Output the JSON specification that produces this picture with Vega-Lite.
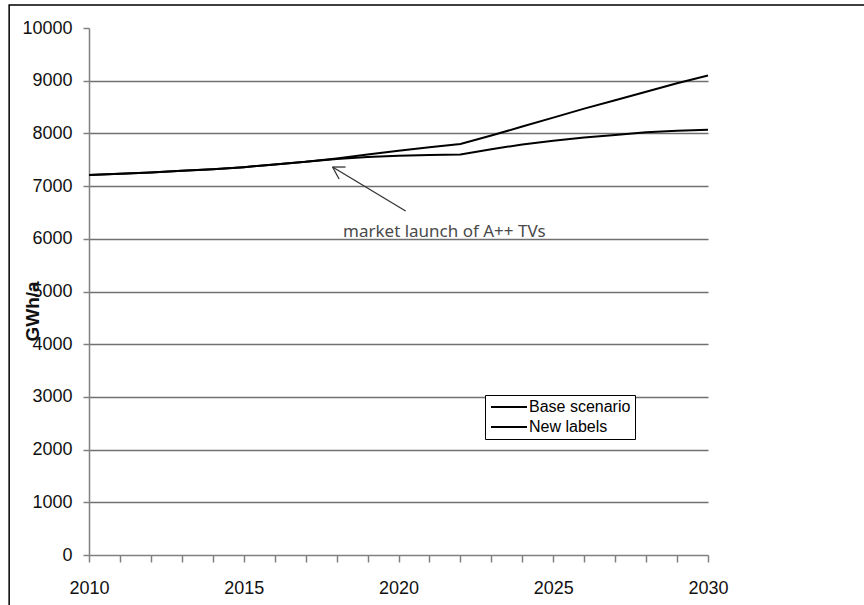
{
  "$schema": "https://vega.github.io/schema/vega-lite/v6.json",
  "width": 619,
  "height": 527,
  "autosize": {"type": "none"},
  "padding": {"left": 89, "top": 28, "right": 156, "bottom": 50},
  "background": "white",
  "config": {
    "view": {"stroke": null},
    "font": "Liberation Sans"
  },
  "datasets": {
    "consumption": [
      {"year": 2010, "scenario": "Base scenario", "gwh": 7210},
      {"year": 2011, "scenario": "Base scenario", "gwh": 7235},
      {"year": 2012, "scenario": "Base scenario", "gwh": 7260},
      {"year": 2013, "scenario": "Base scenario", "gwh": 7290},
      {"year": 2014, "scenario": "Base scenario", "gwh": 7320},
      {"year": 2015, "scenario": "Base scenario", "gwh": 7360},
      {"year": 2016, "scenario": "Base scenario", "gwh": 7410},
      {"year": 2017, "scenario": "Base scenario", "gwh": 7460},
      {"year": 2018, "scenario": "Base scenario", "gwh": 7515},
      {"year": 2019, "scenario": "Base scenario", "gwh": 7550},
      {"year": 2020, "scenario": "Base scenario", "gwh": 7575},
      {"year": 2021, "scenario": "Base scenario", "gwh": 7590},
      {"year": 2022, "scenario": "Base scenario", "gwh": 7600},
      {"year": 2023, "scenario": "Base scenario", "gwh": 7700},
      {"year": 2024, "scenario": "Base scenario", "gwh": 7790},
      {"year": 2025, "scenario": "Base scenario", "gwh": 7860},
      {"year": 2026, "scenario": "Base scenario", "gwh": 7920},
      {"year": 2027, "scenario": "Base scenario", "gwh": 7970},
      {"year": 2028, "scenario": "Base scenario", "gwh": 8020},
      {"year": 2029, "scenario": "Base scenario", "gwh": 8050},
      {"year": 2030, "scenario": "Base scenario", "gwh": 8070},
      {"year": 2010, "scenario": "New labels", "gwh": 7210},
      {"year": 2011, "scenario": "New labels", "gwh": 7235},
      {"year": 2012, "scenario": "New labels", "gwh": 7260},
      {"year": 2013, "scenario": "New labels", "gwh": 7290},
      {"year": 2014, "scenario": "New labels", "gwh": 7320},
      {"year": 2015, "scenario": "New labels", "gwh": 7360},
      {"year": 2016, "scenario": "New labels", "gwh": 7410},
      {"year": 2017, "scenario": "New labels", "gwh": 7460},
      {"year": 2018, "scenario": "New labels", "gwh": 7525},
      {"year": 2019, "scenario": "New labels", "gwh": 7600},
      {"year": 2020, "scenario": "New labels", "gwh": 7670},
      {"year": 2021, "scenario": "New labels", "gwh": 7735},
      {"year": 2022, "scenario": "New labels", "gwh": 7800},
      {"year": 2023, "scenario": "New labels", "gwh": 7960},
      {"year": 2024, "scenario": "New labels", "gwh": 8130},
      {"year": 2025, "scenario": "New labels", "gwh": 8300},
      {"year": 2026, "scenario": "New labels", "gwh": 8470},
      {"year": 2027, "scenario": "New labels", "gwh": 8630},
      {"year": 2028, "scenario": "New labels", "gwh": 8790},
      {"year": 2029, "scenario": "New labels", "gwh": 8950},
      {"year": 2030, "scenario": "New labels", "gwh": 9100}
    ],
    "arrow": [
      {"year": 2020.23, "gwh": 6527, "year2": 2017.87, "gwh2": 7362},
      {"year": 2017.87, "gwh": 7362, "year2": 2018.29, "gwh2": 7362},
      {"year": 2017.87, "gwh": 7362, "year2": 2018.08, "gwh2": 7135}
    ],
    "note": [
      {"year": 2021.48, "gwh": 6034, "label": "market launch of A++ TVs"}
    ],
    "frame": [
      {"year": 2007.42, "gwh": 10436, "year2": 2037, "gwh2": -2500}
    ]
  },
  "encoding": {
    "x": {
      "field": "year",
      "type": "quantitative",
      "scale": {"domain": [2010, 2030], "nice": false, "zero": false},
      "axis": {
        "title": null,
        "values": [2010, 2011, 2012, 2013, 2014, 2015, 2016, 2017, 2018, 2019, 2020, 2021, 2022, 2023, 2024, 2025, 2026, 2027, 2028, 2029, 2030],
        "tickCount": 30,
        "labelExpr": "datum.value % 5 === 0 ? datum.value : ''",
        "grid": false,
        "domainColor": "#808080",
        "domainWidth": 1.5,
        "tickColor": "#808080",
        "tickWidth": 1.5,
        "tickSize": 7,
        "labelFont": "Liberation Sans",
        "labelFontSize": 18,
        "labelColor": "#111",
        "labelPadding": 17,
        "labelOverlap": false,
        "labelFlush": false
      }
    },
    "y": {
      "field": "gwh",
      "type": "quantitative",
      "scale": {"domain": [0, 10000], "nice": false},
      "axis": {
        "title": "GWh/a",
        "titleFont": "Liberation Sans",
        "titleFontSize": 19,
        "titleFontWeight": "bold",
        "titleColor": "#111",
        "titleAngle": -90,
        "titleAlign": "center",
        "titleBaseline": "middle",
        "titleX": -57,
        "titleY": 283,
        "values": [0, 1000, 2000, 3000, 4000, 5000, 6000, 7000, 8000, 9000, 10000],
        "tickCount": 20,
        "format": "d",
        "grid": true,
        "gridColor": "#707070",
        "gridWidth": 1.5,
        "gridOpacity": {"condition": {"test": "datum.value === 0 || datum.value === 10000", "value": 0}, "value": 1},
        "domainColor": "#808080",
        "domainWidth": 1.5,
        "tickColor": "#808080",
        "tickWidth": 1.5,
        "tickSize": 6,
        "labelFont": "Liberation Sans",
        "labelFontSize": 18,
        "labelColor": "#111",
        "labelPadding": 11,
        "labelOverlap": false
      }
    }
  },
  "layer": [
    {
      "data": {"name": "consumption"},
      "mark": {"type": "line", "strokeWidth": 2},
      "encoding": {
        "color": {
          "field": "scenario",
          "type": "nominal",
          "scale": {"domain": ["Base scenario", "New labels"], "range": ["#000", "#000"]},
          "legend": {
            "title": null,
            "orient": "none",
            "legendX": 396,
            "legendY": 367,
            "symbolType": "M-3,0H3",
            "symbolSize": 144,
            "symbolStrokeWidth": 2,
            "symbolOffset": 12,
            "labelFont": "Liberation Sans",
            "labelFontSize": 16,
            "labelColor": "#000",
            "labelOffset": 12,
            "rowPadding": 4,
            "padding": 4,
            "strokeColor": "#000",
            "fillColor": "#fff"
          }
        }
      }
    },
    {
      "data": {"name": "frame"},
      "mark": {"type": "rect", "fill": null, "stroke": "#000", "strokeWidth": 1.5},
      "encoding": {
        "x2": {"field": "year2"},
        "y2": {"field": "gwh2"}
      }
    },
    {
      "data": {"name": "arrow"},
      "mark": {"type": "rule", "stroke": "#333", "strokeWidth": 1.3},
      "encoding": {
        "x2": {"field": "year2"},
        "y2": {"field": "gwh2"}
      }
    },
    {
      "data": {"name": "note"},
      "mark": {"type": "text", "font": "Noto Sans", "fontSize": 17, "color": "#4a4a4a", "align": "center", "baseline": "alphabetic"},
      "encoding": {
        "text": {"field": "label"}
      }
    }
  ]
}
